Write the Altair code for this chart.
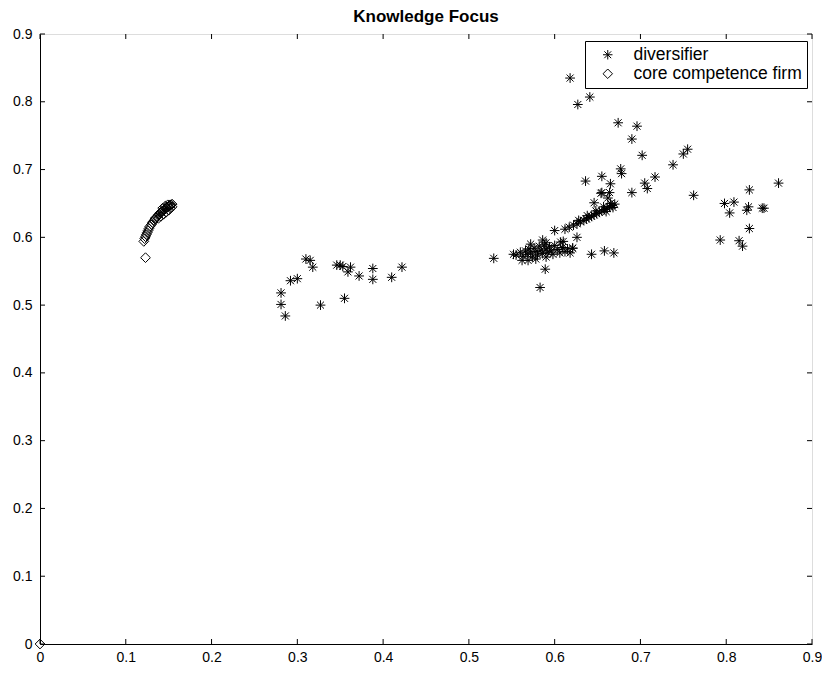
import altair as alt
import pandas as pd

# diversifier (asterisk) points
div_x = [0.281, 0.281, 0.286, 0.292, 0.300, 0.310, 0.315, 0.318, 0.327, 0.346,
         0.350, 0.353, 0.355, 0.359, 0.362, 0.372, 0.388, 0.388, 0.410, 0.422,
         0.529, 0.552, 0.569, 0.590, 0.589, 0.583, 0.600, 0.586, 0.607, 0.621,
         0.626, 0.643, 0.658, 0.669,
         0.555, 0.560, 0.563, 0.566, 0.568, 0.570, 0.572, 0.574, 0.576, 0.578,
         0.580, 0.582, 0.584, 0.586, 0.588, 0.590, 0.592, 0.594, 0.596, 0.598,
         0.600, 0.603, 0.606, 0.609, 0.612, 0.615, 0.618, 0.621, 0.562, 0.578,
         0.572, 0.590, 0.610,
         0.612, 0.617, 0.622, 0.626, 0.630, 0.634, 0.637, 0.640, 0.643, 0.646,
         0.649, 0.652, 0.655, 0.658, 0.661, 0.664, 0.667, 0.670, 0.628, 0.638,
         0.648, 0.657, 0.665, 0.668, 0.660,
         0.646, 0.636, 0.655, 0.665, 0.655, 0.664, 0.662, 0.677, 0.678, 0.690,
         0.705, 0.708, 0.717, 0.738, 0.750, 0.755, 0.762,
         0.618, 0.641, 0.627, 0.674, 0.696, 0.690, 0.702, 0.654,
         0.861, 0.827, 0.798, 0.809, 0.804, 0.826, 0.824, 0.842, 0.844, 0.827,
         0.793, 0.815, 0.819]
div_y = [0.518, 0.501, 0.484, 0.536, 0.539, 0.568, 0.566, 0.556, 0.500, 0.559,
         0.559, 0.557, 0.510, 0.549, 0.556, 0.543, 0.554, 0.538, 0.541, 0.556,
         0.569, 0.575, 0.566, 0.571, 0.553, 0.526, 0.610, 0.596, 0.593, 0.584,
         0.600, 0.575, 0.580, 0.577,
         0.574, 0.578, 0.572, 0.580, 0.575, 0.583, 0.577, 0.571, 0.584, 0.579,
         0.574, 0.587, 0.581, 0.576, 0.589, 0.583, 0.578, 0.586, 0.580, 0.575,
         0.588, 0.582, 0.577, 0.585, 0.579, 0.583, 0.577, 0.584, 0.566, 0.568,
         0.590, 0.592, 0.594,
         0.612, 0.615, 0.618, 0.620, 0.623, 0.625, 0.627, 0.629, 0.631, 0.633,
         0.635, 0.637, 0.639, 0.641, 0.643, 0.645, 0.647, 0.649, 0.625, 0.632,
         0.639, 0.645, 0.650, 0.644, 0.638,
         0.651, 0.683, 0.690, 0.679, 0.666, 0.666, 0.658, 0.701, 0.694, 0.666,
         0.680, 0.672, 0.689, 0.707, 0.723, 0.730, 0.662,
         0.835, 0.807, 0.796, 0.769, 0.764, 0.745, 0.721, 0.665,
         0.680, 0.670, 0.650, 0.652, 0.636, 0.645, 0.640, 0.643, 0.643, 0.613,
         0.596, 0.595, 0.587]

# core competence firm (diamond) points
core_x = [0.121, 0.122, 0.123, 0.124, 0.125, 0.126, 0.127, 0.128, 0.130, 0.131,
          0.133, 0.134, 0.135, 0.137, 0.138, 0.139, 0.140, 0.141, 0.142, 0.143,
          0.144, 0.145, 0.146, 0.147, 0.148, 0.149, 0.150, 0.151, 0.152, 0.153,
          0.154, 0.138, 0.141, 0.144, 0.147, 0.150, 0.152, 0.154, 0.143, 0.146,
          0.149, 0.123, 0.0]
core_y = [0.594, 0.598, 0.601, 0.604, 0.607, 0.610, 0.613, 0.616, 0.619, 0.622,
          0.625, 0.627, 0.629, 0.631, 0.633, 0.634, 0.636, 0.637, 0.638, 0.639,
          0.640, 0.641, 0.642, 0.643, 0.644, 0.645, 0.646, 0.647, 0.648, 0.648,
          0.649, 0.628, 0.631, 0.634, 0.637, 0.640, 0.643, 0.645, 0.643, 0.646,
          0.648, 0.570, 0.0]

series_names = ["diversifier", "core competence firm"]
tick_values = [0, 0.1, 0.2, 0.3, 0.4, 0.5, 0.6, 0.7, 0.8, 0.9]

W, H = 772, 610
FONT = "Liberation Sans"
ASTERISK = "M-1,0L1,0M0,-1L0,1M-0.72,-0.72L0.72,0.72M-0.72,0.72L0.72,-0.72"

df = pd.concat([
    pd.DataFrame({"x": div_x, "y": div_y, "s": series_names[0]}),
    pd.DataFrame({"x": core_x, "y": core_y, "s": series_names[1]}),
])
ticks = pd.DataFrame({"t": tick_values})

sx = alt.Scale(domain=[0, 0.9], nice=False, zero=False)
sy = alt.Scale(domain=[0, 0.9], nice=False, zero=False)
ax_x = alt.Axis(values=tick_values, format="~g", title=None, grid=False, ticks=False,
                domainColor="black", labelColor="black", labelFont=FONT,
                labelFontSize=14, labelPadding=6, labelFlush=False)
ax_y = alt.Axis(values=tick_values, format="~g", title=None, grid=False, ticks=False,
                domainColor="black", labelColor="black", labelFont=FONT,
                labelFontSize=14, labelPadding=8, labelFlush=False)

points = alt.Chart(df).mark_point(filled=False, color="black", strokeWidth=1, opacity=1).encode(
    x=alt.X("x:Q", scale=sx, axis=ax_x),
    y=alt.Y("y:Q", scale=sy, axis=ax_y),
    shape=alt.Shape("s:N", scale=alt.Scale(domain=series_names, range=[ASTERISK, "diamond"]),
                    legend=alt.Legend(title=None, orient="none", legendX=545, legendY=7,
                                      strokeColor="black", fillColor="white", padding=5,
                                      labelFont=FONT, labelFontSize=17.5, labelColor="black",
                                      symbolSize=90, symbolStrokeWidth=1, symbolStrokeColor="black",
                                      symbolOffset=9, rowPadding=0, labelLimit=400,
                                      labelOffset=17, cornerRadius=0)),
    size=alt.value(95),
)

base_t = alt.Chart(ticks).mark_rule(color="black", strokeWidth=1)
bottom_t = base_t.encode(x=alt.X("t:Q", scale=sx, axis=ax_x), y=alt.value(H), y2=alt.value(H - 5))
top_t = base_t.encode(x=alt.X("t:Q", scale=sx, axis=ax_x), y=alt.value(0), y2=alt.value(5))
left_t = base_t.encode(y=alt.Y("t:Q", scale=sy, axis=ax_y), x=alt.value(0), x2=alt.value(5))
right_t = base_t.encode(y=alt.Y("t:Q", scale=sy, axis=ax_y), x=alt.value(W), x2=alt.value(W - 5))

chart = alt.layer(points, bottom_t, top_t, left_t, right_t).properties(
    width=W, height=H,
    title=alt.TitleParams("Knowledge Focus", font=FONT, fontSize=17, fontWeight="bold",
                          color="black", offset=1),
    autosize=alt.AutoSizeParams(type="none"),
    padding={"left": 32, "top": 26, "right": 10, "bottom": 20},
).configure_view(stroke="black", strokeWidth=1).configure(background="white")

chart.save("out.html", embed_options={"renderer": "svg", "actions": False})
